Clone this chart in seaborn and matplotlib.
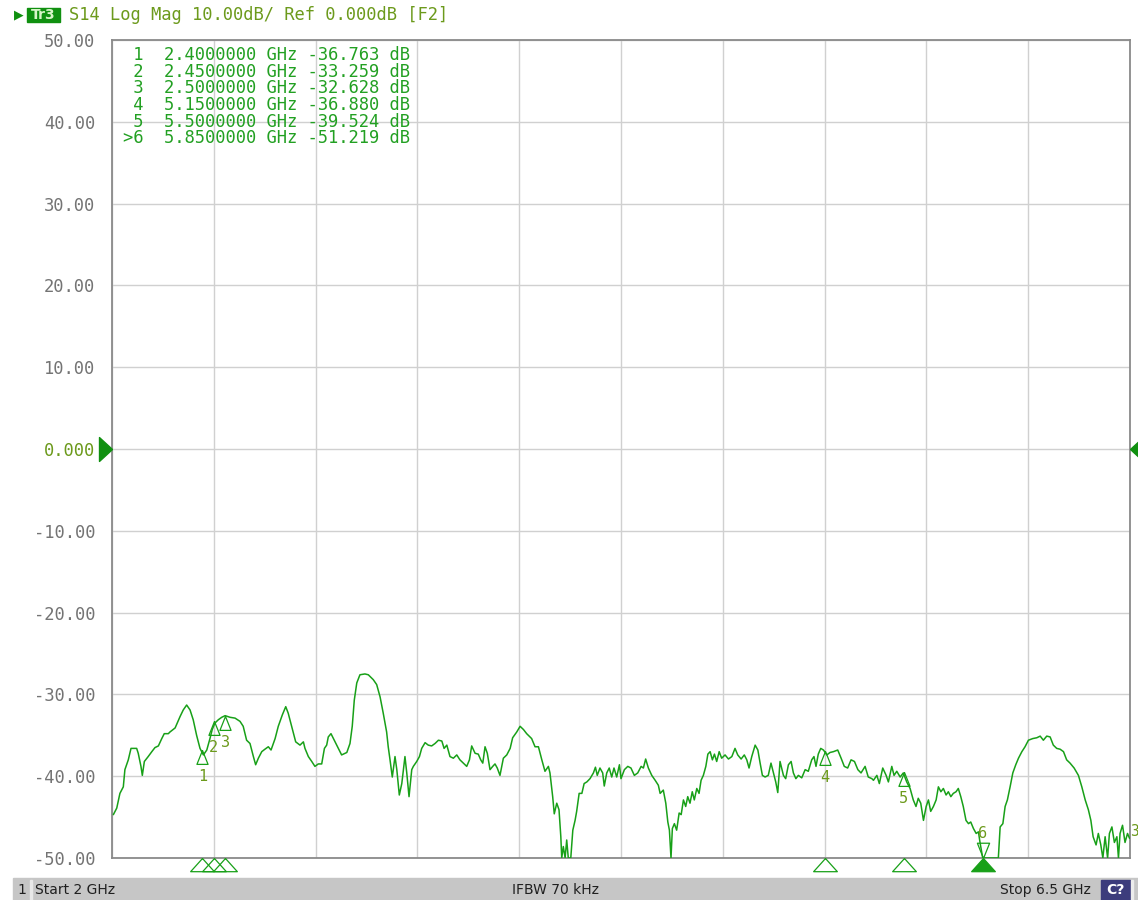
import numpy as np
import matplotlib
matplotlib.use("Agg")
import matplotlib.pyplot as plt
import matplotlib.transforms as mtransforms
from matplotlib.patches import Rectangle
import pandas as pd
import seaborn as sns

# S14 trace (GHz, dB)
freq_ghz = [
    2.006, 2.021, 2.035, 2.050, 2.057, 2.072, 2.084, 2.109, 2.116, 2.128,
    2.134, 2.143, 2.160, 2.176, 2.190, 2.205, 2.220, 2.231, 2.249, 2.256,
    2.279, 2.301, 2.315, 2.330, 2.345, 2.359, 2.374, 2.389, 2.404, 2.419,
    2.433, 2.443, 2.455, 2.470, 2.485, 2.500, 2.522, 2.544, 2.566, 2.580,
    2.595, 2.610, 2.625, 2.635, 2.647, 2.662, 2.676, 2.691, 2.703, 2.721,
    2.735, 2.753, 2.768, 2.779, 2.794, 2.812, 2.831, 2.846, 2.853, 2.868,
    2.883, 2.897, 2.912, 2.927, 2.939, 2.949, 2.956, 2.968, 2.986, 3.000,
    3.015, 3.038, 3.052, 3.062, 3.071, 3.082, 3.096,
    3.118, 3.133, 3.155, 3.170, 3.185, 3.199, 3.214, 3.221, 3.229, 3.239,
    3.251, 3.259, 3.270, 3.281, 3.295, 3.303, 3.313, 3.325, 3.332, 3.347,
    3.359, 3.369, 3.384, 3.398, 3.413, 3.428, 3.443, 3.458, 3.468, 3.480,
    3.494, 3.509, 3.524, 3.538, 3.553, 3.568, 3.580, 3.590, 3.605, 3.619,
    3.630, 3.639, 3.649, 3.659, 3.671, 3.683, 3.693, 3.703, 3.715, 3.730,
    3.745, 3.760, 3.771, 3.789, 3.804, 3.819, 3.833, 3.855, 3.870, 3.885,
    3.900, 3.914, 3.929, 3.936, 3.948, 3.955, 3.966, 3.976, 3.984, 3.988,
    3.995, 4.003, 4.010, 4.017, 4.028, 4.037, 4.047, 4.054, 4.065, 4.077,
    4.087, 4.099, 4.113, 4.128, 4.137, 4.145, 4.157, 4.169, 4.176, 4.187,
    4.198, 4.209, 4.219, 4.231, 4.243,
    4.250, 4.265, 4.280, 4.294, 4.309, 4.324, 4.339, 4.349, 4.359, 4.371,
    4.386, 4.401, 4.415, 4.423, 4.437, 4.448, 4.457, 4.464, 4.471, 4.477,
    4.486, 4.496, 4.507, 4.516, 4.526, 4.536, 4.545, 4.555, 4.565, 4.574,
    4.585, 4.595, 4.604, 4.614, 4.625, 4.634, 4.644, 4.654, 4.663, 4.673,
    4.684, 4.695, 4.710, 4.725, 4.740, 4.754, 4.766, 4.781, 4.795, 4.806,
    4.816, 4.828, 4.843, 4.855, 4.865, 4.875, 4.887, 4.901, 4.913, 4.924,
    4.934, 4.943, 4.953, 4.968, 4.978, 4.990, 5.002, 5.012, 5.023, 5.034,
    5.049, 5.064, 5.078, 5.093, 5.103, 5.112, 5.122, 5.133, 5.145, 5.160,
    5.174, 5.189, 5.208, 5.223, 5.237, 5.252, 5.267, 5.282, 5.297, 5.311,
    5.329, 5.343, 5.359,
    5.366, 5.381, 5.392, 5.407, 5.422, 5.432, 5.447, 5.457, 5.469, 5.484,
    5.498, 5.513, 5.528, 5.542, 5.554, 5.564, 5.575, 5.587, 5.599, 5.609,
    5.619, 5.631, 5.643, 5.653, 5.664, 5.675, 5.687, 5.697, 5.708, 5.719,
    5.731, 5.741, 5.752, 5.763, 5.775, 5.786, 5.796, 5.808, 5.820, 5.830,
    5.837, 5.849, 5.859, 5.918, 5.926, 5.938, 5.948, 5.958, 5.970, 5.982,
    5.995, 6.007, 6.022, 6.036, 6.051, 6.070, 6.088, 6.103, 6.117, 6.132,
    6.147, 6.161, 6.176, 6.191, 6.206, 6.220, 6.235, 6.253, 6.272, 6.287,
    6.302, 6.316, 6.327, 6.337, 6.350, 6.360, 6.371, 6.380, 6.390, 6.401,
    6.409, 6.420, 6.431, 6.442, 6.449, 6.456, 6.467, 6.478, 6.489, 6.498,
]
s14_db = [
    -44.7, -43.9, -42.1, -41.3, -39.2, -38.0, -36.6, -36.6, -37.2, -38.8,
    -39.9, -38.2, -37.6, -37.0, -36.5, -36.3, -35.4, -34.8, -34.8, -34.6,
    -34.1, -32.7, -31.9, -31.3, -31.9, -33.1, -35.0, -36.6, -37.4, -36.8,
    -35.4, -34.3, -33.5, -33.1, -32.8, -32.6, -32.8, -32.9, -33.3, -33.9,
    -35.6, -36.0, -37.6, -38.6, -37.8, -37.0, -36.7, -36.4, -36.8, -35.4,
    -33.9, -32.5, -31.5, -32.3, -33.9, -35.8, -36.2, -35.8, -36.6, -37.6,
    -38.2, -38.8, -38.5, -38.5, -36.6, -36.2, -35.2, -34.8, -35.8, -36.6,
    -37.4, -37.1, -36.0, -33.9, -30.7, -28.6, -27.6,
    -27.5, -27.6, -28.2, -28.8, -30.3, -32.3, -34.6, -36.4, -38.0, -40.1,
    -37.6, -39.2, -42.3, -40.9, -37.6, -39.6, -42.5, -39.2, -38.8, -38.2,
    -37.6, -36.6, -35.9, -36.2, -36.3, -36.0, -35.6, -35.7, -36.6, -36.2,
    -37.6, -37.8, -37.4, -38.0, -38.4, -38.8, -38.0, -36.3, -37.2, -37.3,
    -38.0, -38.4, -36.4, -37.2, -39.2, -38.8, -38.5, -39.0, -39.9, -37.8,
    -37.4, -36.6, -35.3, -34.6, -33.9, -34.3, -34.8, -35.4, -36.4, -36.4,
    -38.0, -39.4, -38.8, -39.6, -42.5, -44.6, -43.3, -44.1, -47.4, -51.0,
    -48.6, -51.0, -47.8, -51.0, -51.0, -46.6, -45.4, -44.3, -42.1, -42.1,
    -40.9, -40.7, -40.3, -39.6, -38.9, -39.9, -39.0, -39.6, -41.2, -39.6,
    -39.0, -40.1, -39.0, -40.1, -38.6,
    -40.3, -39.2, -38.8, -39.0, -39.9, -39.6, -38.8, -39.0, -37.9, -39.0,
    -39.9, -40.5, -41.1, -42.1, -41.7, -43.3, -45.6, -46.6, -51.0, -46.4,
    -45.8, -46.6, -44.5, -44.7, -42.9, -43.7, -42.5, -43.3, -41.9, -42.9,
    -41.5, -42.1, -40.5, -39.9, -38.8, -37.3, -37.0, -38.0, -37.3, -38.2,
    -37.0, -37.8, -37.4, -37.9, -37.6, -36.6, -37.4, -37.9, -37.4, -38.0,
    -39.0, -37.6, -36.2, -36.8, -38.4, -39.9, -40.1, -39.9, -38.4, -39.6,
    -40.7, -42.0, -38.2, -39.9, -40.3, -38.6, -38.2, -39.6, -40.3, -39.9,
    -40.2, -39.2, -39.4, -38.0, -37.6, -38.8, -37.3, -36.6, -36.8, -37.4,
    -37.1, -37.0, -36.8, -37.8, -38.8, -39.0, -38.0, -38.2, -39.2, -39.6,
    -38.8, -40.1, -40.3,
    -40.5, -39.9, -40.9, -39.0, -39.9, -40.7, -38.8, -39.9, -39.4, -40.1,
    -39.6, -40.7, -41.5, -42.9, -43.7, -42.7, -43.3, -45.4, -43.7, -42.9,
    -44.3, -43.7, -42.9, -41.3, -41.9, -41.5, -42.3, -41.9, -42.5, -42.1,
    -41.9, -41.5, -42.5, -43.7, -45.4, -45.8, -45.6, -46.4, -47.0, -46.8,
    -48.1, -51.2, -52.0, -52.0, -46.2, -45.8, -43.7, -42.9, -41.3, -39.6,
    -38.6, -37.8, -37.0, -36.4, -35.6, -35.4, -35.3, -35.1, -35.6, -35.1,
    -35.2, -36.2, -36.6, -36.7, -37.0, -38.0, -38.4, -39.0, -39.9, -41.3,
    -42.9, -44.1, -45.4, -47.4, -48.4, -47.0, -48.4, -51.0, -47.4, -51.0,
    -47.0, -46.2, -48.1, -47.4, -51.0, -47.0, -46.0, -48.1, -47.0, -47.6,
]

# marker table
marker_ids = ["1", "2", "3", "4", "5", "6"]
marker_freq = [2.40, 2.45, 2.50, 5.15, 5.50, 5.85]
marker_db = [-36.763, -33.259, -32.628, -36.880, -39.524, -51.219]
active_marker = "6"

y_ticks = [50, 40, 30, 20, 10, 0, -10, -20, -30, -40, -50]
y_tick_labels = ["50.00", "40.00", "30.00", "20.00", "10.00", "0.000",
                 "-10.00", "-20.00", "-30.00", "-40.00", "-50.00"]
x_ticks = [2.0, 2.45, 2.9, 3.35, 3.8, 4.25, 4.7, 5.15, 5.6, 6.05, 6.5]

W, H = 1138, 900
TRACE = "#18a018"
OLIVE = "#6c9a1c"
GRAY = "#747474"
MONO = "DejaVu Sans Mono"


def fx(px):
    return px / W


def fy(py):
    return 1 - py / H


sns.set_style("white")
plt.rcParams["font.family"] = ["DejaVu Sans"]

fig = plt.figure(figsize=(W / 100, H / 100), dpi=100)
ax = fig.add_axes([fx(112), fy(858), (1130 - 112) / W, (858 - 40) / H])

# the analyzer pins values below the bottom line onto it
df = pd.DataFrame({"freq": freq_ghz, "db": np.clip(s14_db, -50, 50)})
sns.lineplot(data=df, x="freq", y="db", ax=ax, color=TRACE, linewidth=1.1,
             sort=False, estimator=None, zorder=3)

ax.set_xlim(2.0, 6.5)
ax.set_ylim(-50, 50)
ax.set_xticks(x_ticks)
ax.set_xticklabels([])
ax.set_yticks(y_ticks)
ax.set_yticklabels(y_tick_labels, fontfamily=MONO, fontsize=12.3, color=GRAY)
ax.tick_params(axis="both", length=0)
ax.tick_params(axis="y", pad=12)
for lbl in ax.get_yticklabels():
    if lbl.get_text() == "0.000":
        lbl.set_color(OLIVE)
ax.grid(True, color="#d0d0d0", linewidth=1.0)
ax.set_xlabel("")
ax.set_ylabel("")
for sp in ax.spines.values():
    sp.set_color("#8a8a8a")
    sp.set_linewidth(1.3)

# reference level arrows
ax.plot([2.0], [0], marker=[(0, 0), (-1, 0.92), (-1, -0.92), (0, 0)], ms=18.7,
        color="#109010", clip_on=False, zorder=5)
ax.plot([6.5], [0], marker=[(0, 0), (1, 0.92), (1, -0.92), (0, 0)], ms=18.7,
        color="#109010", clip_on=False, zorder=5)

# markers on the trace and under the axis
bottom = mtransforms.blended_transform_factory(ax.transData, ax.transAxes)
tri_up = [(0, 0), (-0.4, -1), (0.4, -1), (0, 0)]
tri_down = [(0, 0), (-0.4, 1), (0.4, 1), (0, 0)]
tri_wide = [(0, 0), (-0.9, -1), (0.9, -1), (0, 0)]
for mid, f, v in zip(marker_ids, marker_freq, marker_db):
    if v < -50:
        ax.plot([f], [-50], marker=tri_down, ms=22, mfc="none", mec=TRACE,
                mew=0.9, clip_on=False, zorder=4)
        ax.annotate(mid, (f, -50), xytext=(0, 18), textcoords="offset points",
                    ha="center", va="center", fontsize=11, fontfamily=MONO,
                    color=OLIVE, annotation_clip=False)
    else:
        ax.plot([f], [v], marker=tri_up, ms=20, mfc="none", mec=TRACE,
                mew=0.9, zorder=4)
        ax.annotate(mid, (f, v), xytext=(0, -19), textcoords="offset points",
                    ha="center", va="center", fontsize=11, fontfamily=MONO,
                    color=OLIVE)
    active = mid == active_marker
    ax.plot([f], [0], marker=tri_wide, ms=19, transform=bottom, clip_on=False,
            mec=TRACE, mfc=TRACE if active else "none", mew=0.9, zorder=4)

# marker readout table
for i, (mid, f, v) in enumerate(zip(marker_ids, marker_freq, marker_db)):
    tag = (">" + mid) if mid == active_marker else mid
    fig.text(fx(123), fy(55 + i * 16.67), f"{tag:>2}  {f:.7f} GHz {v:.3f} dB",
             fontfamily=MONO, fontsize=12.3, color="#22a022", va="center",
             ha="left")

# trace number at right edge
fig.text(fx(1130), fy(832), "3", fontfamily=MONO, fontsize=10.5, color=OLIVE,
         va="center", ha="left")

# header line
fig.text(fx(14), fy(15), "\u25B6", fontsize=9, color="#109010", va="center",
         ha="left")
fig.patches.append(Rectangle((fx(27), fy(22)), 33 / W, 14 / H,
                             transform=fig.transFigure, color="#109010"))
fig.text(fx(43.5), fy(15), "Tr3", fontsize=10, color="#d8f5c8", va="center",
         ha="center", fontweight="bold")
fig.text(fx(69), fy(15), "S14 Log Mag 10.00dB/ Ref 0.000dB [F2]",
         fontfamily=MONO, fontsize=12.3, color=OLIVE, va="center", ha="left")

# status bar
fig.patches.append(Rectangle((fx(13), 0), (W - 13) / W, 22 / H,
                             transform=fig.transFigure, color="#c6c6c6"))
fig.patches.append(Rectangle((fx(30), 0), 1.5 / W, 20 / H,
                             transform=fig.transFigure, color="#e8e8e8"))
fig.patches.append(Rectangle((fx(1101), 0), 29 / W, 20 / H,
                             transform=fig.transFigure, color="#3c3c7c"))
fig.patches.append(Rectangle((fx(1131), 0), 2 / W, 20 / H,
                             transform=fig.transFigure, color="#ececec"))
bar_y = fy(890)
fig.text(fx(17), bar_y, "1", fontsize=10, color="#202020", va="center")
fig.text(fx(35), bar_y, "Start 2 GHz", fontsize=10, color="#202020", va="center")
fig.text(fx(512), bar_y, "IFBW 70 kHz", fontsize=10, color="#202020", va="center")
fig.text(fx(1091), bar_y, "Stop 6.5 GHz", fontsize=10, color="#202020",
         va="center", ha="right")
fig.text(fx(1115.5), bar_y, "C?", fontsize=10, color="white", va="center",
         ha="center", fontweight="bold")

fig.savefig("out.png", dpi=100)
